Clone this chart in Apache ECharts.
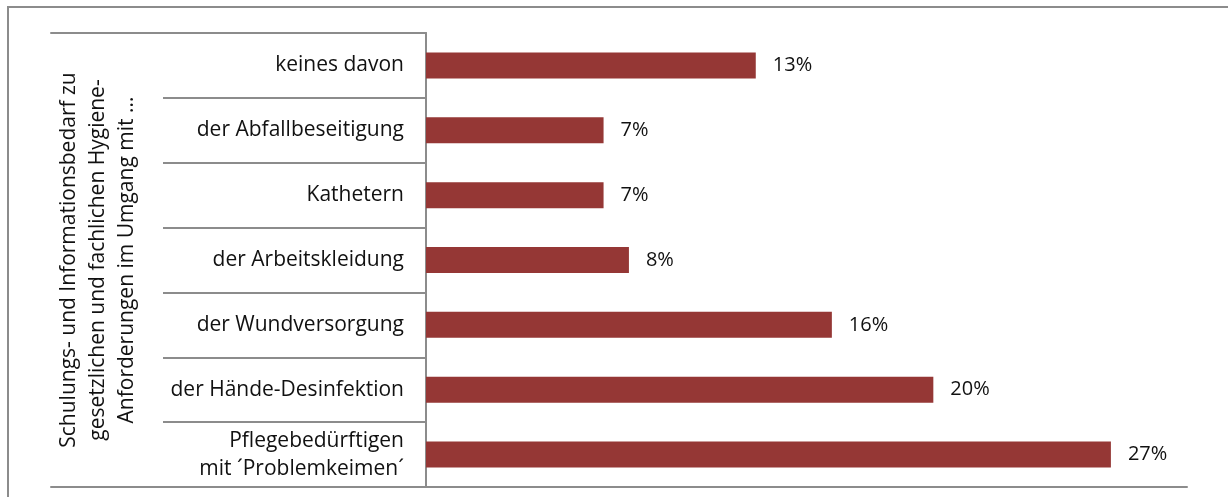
<!DOCTYPE html>
<html>
<head>
<meta charset="utf-8">
<script src="https://cdn.jsdelivr.net/npm/echarts@6/dist/echarts.min.js"></script>
<style>
  html, body { margin: 0; padding: 0; background: #fff; }
  #wrap { position: relative; width: 1228px; height: 497px; overflow: hidden; }
  #frame { position: absolute; left: 7px; top: 6px; width: 1400px; height: 600px;
           border-left: 2px solid #8c8c8c; border-top: 2px solid #8c8c8c; }
  #chart { position: absolute; left: 0; top: 0; width: 1228px; height: 497px; }
</style>
</head>
<body>
<div id="wrap">
  <div id="frame"></div>
  <div id="chart"></div>
</div>
<script>
// Survey answers, listed top to bottom
const categories = [
  'keines davon',
  'der Abfallbeseitigung',
  'Kathetern',
  'der Arbeitskleidung',
  'der Wundversorgung',
  'der Hände-Desinfektion',
  'Pflegebedürftigen\nmit ´Problemkeimen´'
];
// Share of respondents (%)
const shares = [13, 7, 7, 8, 16, 20, 27];
// Grouping title shown along the left edge
const groupTitle = [
  'Schulungs- und Informationsbedarf zu',
  'gesetzlichen und fachlichen Hygiene-',
  'Anforderungen im Umgang mit ...'
];

const FONT = '"Open Sans", Lato, sans-serif';
const LINE = '#8c8c8c';
const TEXT = '#111';
const FS = 21;
const TOP = 33, HEIGHT = 454;

const chart = echarts.init(document.getElementById('chart'), null, { renderer: 'canvas' });

chart.setOption({
  animation: false,
  textStyle: { fontFamily: FONT },
  grid: [
    { left: 426, top: TOP, width: 761, height: HEIGHT },   // bars
    { left: 163, top: TOP, width: 263, height: HEIGHT },   // category separators
    { left: 51,  top: TOP, width: 375, height: HEIGHT }    // outer label box
  ],
  xAxis: [
    { type: 'value', gridIndex: 0, min: 0, max: 30,
      axisLine: { show: true, lineStyle: { color: LINE, width: 2 } },
      axisTick: { show: false }, axisLabel: { show: false }, splitLine: { show: false } },
    { type: 'value', gridIndex: 1, show: false },
    { type: 'value', gridIndex: 2, position: 'bottom',
      axisLine: { show: true, onZero: false, lineStyle: { color: LINE, width: 2 } },
      axisTick: { show: false }, axisLabel: { show: false }, splitLine: { show: false } },
    { type: 'value', gridIndex: 2, position: 'top',
      axisLine: { show: true, onZero: false, lineStyle: { color: LINE, width: 2 } },
      axisTick: { show: false }, axisLabel: { show: false }, splitLine: { show: false } }
  ],
  yAxis: [
    { type: 'category', gridIndex: 0, data: categories, inverse: true,
      axisLine: { show: true, lineStyle: { color: LINE, width: 2 } },
      axisTick: { show: false },
      axisLabel: { margin: 22, fontSize: FS, color: TEXT, align: 'right',
                   lineHeight: 28, fontFamily: FONT } },
    { type: 'category', gridIndex: 1, data: categories, inverse: true,
      axisLine: { show: false }, axisTick: { show: false }, axisLabel: { show: false },
      splitLine: { show: true, lineStyle: { color: LINE, width: 2 } } },
    { type: 'category', gridIndex: 2, data: categories, inverse: true,
      axisLine: { show: false }, axisTick: { show: false }, axisLabel: { show: false },
      name: groupTitle.join('\n'),
      nameLocation: 'middle', nameRotate: 90, nameGap: -47,
      nameTextStyle: { fontSize: FS, color: TEXT, lineHeight: 29,
                       align: 'center', verticalAlign: 'middle', fontFamily: FONT } }
  ],
  series: [{
    type: 'bar',
    xAxisIndex: 0, yAxisIndex: 0,
    data: shares,
    barWidth: 26,
    itemStyle: { color: '#953735' },
    label: { show: true, position: 'right', distance: 17, fontSize: 20,
             color: TEXT, fontFamily: FONT, formatter: p => p.value + '%' }
  }]
});
</script>
</body>
</html>
